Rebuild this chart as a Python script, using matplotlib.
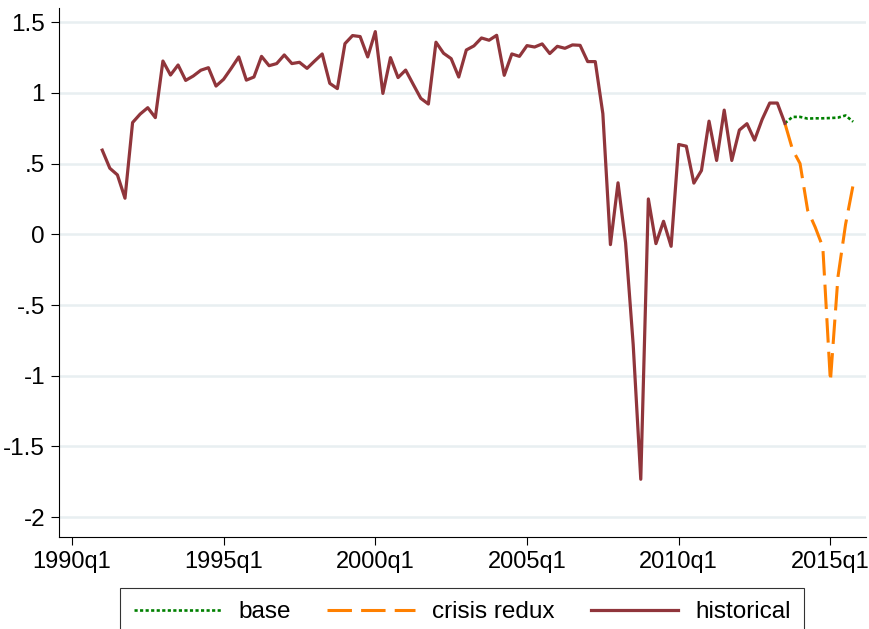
import numpy as np
import matplotlib
matplotlib.use("Agg")
import matplotlib.pyplot as plt

plt.rcParams['font.family'] = ['Liberation Sans', 'DejaVu Sans']

# quarterly data, index 0 = 1990q1
hist_start = 4  # 1991q1
historical = [
    0.595, 0.467, 0.42, 0.255,
    0.79, 0.85, 0.895, 0.825,
    1.225, 1.126, 1.197, 1.088,
    1.119, 1.16, 1.178, 1.048,
    1.096, 1.173, 1.254, 1.09,
    1.112, 1.258, 1.192, 1.207,
    1.268, 1.207, 1.216, 1.173,
    1.225, 1.275, 1.067, 1.03,
    1.348, 1.405, 1.398, 1.254,
    1.433, 0.996, 1.249, 1.108,
    1.161, 1.06, 0.961, 0.921,
    1.358, 1.28, 1.242, 1.112,
    1.303, 1.332, 1.388, 1.372,
    1.407, 1.124, 1.275, 1.258,
    1.334, 1.324, 1.346, 1.278,
    1.329, 1.315, 1.339, 1.336,
    1.221, 1.221, 0.853, -0.073,
    0.364, -0.061, -0.78, -1.732,
    0.25, -0.066, 0.092, -0.085,
    0.635, 0.623, 0.362, 0.451,
    0.80, 0.522, 0.878, 0.522,
    0.737, 0.782, 0.666, 0.812,
    0.928, 0.928, 0.785,
]

fc_start = 94  # 2013q3
base = [0.785, 0.83, 0.83, 0.818, 0.82, 0.82, 0.822, 0.825, 0.84, 0.796]
crisis = [0.785, 0.6, 0.5, 0.17, 0.05, -0.09, -1.04, -0.3, 0.07, 0.35]

xtick_pos = [0, 20, 40, 60, 80, 100]
xtick_labels = ['1990q1', '1995q1', '2000q1', '2005q1', '2010q1', '2015q1']
ytick_pos = [1.5, 1, 0.5, 0, -0.5, -1, -1.5, -2]
ytick_labels = ['1.5', '1', '.5', '0', '-.5', '-1', '-1.5', '-2']

t_hist = np.arange(hist_start, hist_start + len(historical))
t_fc = np.arange(fc_start, fc_start + len(base))

fig = plt.figure(figsize=(8.69, 6.29), dpi=100)
ax = fig.add_axes([0.0679, 0.1463, 0.9287, 0.841])

for y in ytick_pos:
    ax.axhline(y, color='#e8eff1', lw=1.8, zorder=0)

l_base, = ax.plot(t_fc, base, color='#008000', lw=1.9,
                  linestyle=(0, (1.2, 0.9)), label='base')
l_crisis, = ax.plot(t_fc, crisis, color='#ff8000', lw=2.2,
                    linestyle=(0, (8, 3)), label='crisis redux')
l_hist, = ax.plot(t_hist, historical, color='#90353b', lw=2.3,
                  label='historical')

ax.set_xlim(-1.7, 104.7)
ax.set_ylim(-2.14, 1.6)
ax.set_xticks(xtick_pos)
ax.set_xticklabels(xtick_labels)
ax.set_yticks(ytick_pos)
ax.set_yticklabels(ytick_labels)
ax.tick_params(axis='both', length=6, width=0.8, color='black', direction='out')
ax.tick_params(axis='y', pad=4, labelsize=17.5)
ax.tick_params(axis='x', pad=4, labelsize=17)

for s in ['top', 'right']:
    ax.spines[s].set_visible(False)
for s in ['left', 'bottom']:
    ax.spines[s].set_linewidth(0.8)

leg = fig.legend(handles=[l_base, l_crisis, l_hist], loc='upper center',
                 bbox_to_anchor=(0.532, 1 - 588 / 629), ncol=3, fontsize=17.5,
                 frameon=True, fancybox=False, edgecolor='black',
                 handlelength=3.6, handletextpad=0.7, columnspacing=1.5,
                 borderpad=0.55, borderaxespad=0)
leg.get_frame().set_linewidth(0.8)

fig.savefig('out.png', dpi=100)
